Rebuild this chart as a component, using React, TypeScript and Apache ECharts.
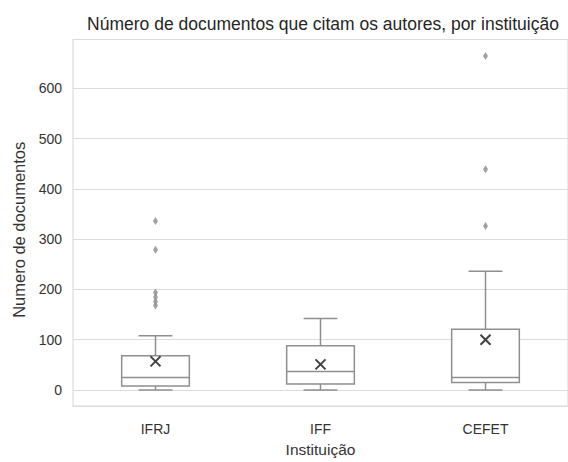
import React, { useEffect, useRef } from "react";
import * as echarts from "echarts";

const categories = ["IFRJ", "IFF", "CEFET"];
const whiskerLow = [0, 0, 0];
const q1 = [8, 12, 15];
const median = [25, 37, 25];
const q3 = [68, 88, 121];
const whiskerHigh = [108, 142, 236];
const means = [57, 51, 100];
const outliersIFRJ = [336, 279, 194, 185, 176, 168];
const outliersCEFET = [664, 439, 326];
const yTicks = [0, 100, 200, 300, 400, 500, 600];

export default function App() {
  const ref = useRef<HTMLDivElement>(null);
  useEffect(() => {
    if (!ref.current) return;
    const chart = echarts.init(ref.current, undefined, { renderer: "svg" });
    const font = "Liberation Sans, Arial, sans-serif";
    const boxData = categories.map((_, i) => [i, whiskerLow[i], q1[i], median[i], q3[i], whiskerHigh[i]]);
    const outlierData: number[][] = [
      ...outliersIFRJ.map((v) => [0, v]),
      ...outliersCEFET.map((v) => [2, v]),
    ];
    const boxColor = "#8f8f8f";
    chart.setOption({
      animation: false,
      backgroundColor: "#ffffff",
      title: {
        text: "Número de documentos que citam os autores, por instituição",
        left: 318,
        textAlign: "center",
        top: 10,
        textStyle: { fontFamily: font, fontSize: 17.5, fontWeight: "normal", color: "#262626" },
      },
      grid: {
        left: 73,
        right: -1,
        top: 39.5,
        bottom: 48.5,
        show: true,
        borderColor: "#dcdcdc",
        borderWidth: 1.2,
      },
      xAxis: {
        type: "category",
        data: categories,
        boundaryGap: true,
        axisLine: { show: false },
        axisTick: { show: false },
        axisLabel: { fontFamily: font, fontSize: 14, color: "#333333", margin: 16 },
        name: "Instituição",
        nameLocation: "middle",
        nameGap: 33,
        nameTextStyle: { fontFamily: font, fontSize: 15.5, color: "#333333" },
        splitLine: { show: false },
      },
      yAxis: {
        type: "value",
        min: -32,
        max: 697,
        splitNumber: 7,
        axisLine: { show: false },
        axisTick: { show: false },
        axisLabel: {
          fontFamily: font,
          fontSize: 14,
          color: "#333333",
          margin: 11,
          formatter: (v: number) => (yTicks.indexOf(v) >= 0 ? String(v) : ""),
        },
        splitLine: { lineStyle: { color: "#dcdcdc", width: 1.2 } },
        name: "Numero de documentos",
        nameLocation: "middle",
        nameGap: 43,
        nameTextStyle: { fontFamily: font, fontSize: 16.5, color: "#333333", padding: [0, 14, 0, 0] },
      },
      series: [
        {
          type: "custom",
          data: boxData,
          encode: { x: 0, y: [1, 2, 3, 4, 5] },
          renderItem: (params: any, api: any) => {
            const x = api.value(0);
            const band = api.size([1, 0])[0];
            const bw = band * 0.41;
            const cw = bw / 2;
            const pLow = api.coord([x, api.value(1)]);
            const pQ1 = api.coord([x, api.value(2)]);
            const pMed = api.coord([x, api.value(3)]);
            const pQ3 = api.coord([x, api.value(4)]);
            const pHigh = api.coord([x, api.value(5)]);
            const cx = pQ1[0];
            const st = { stroke: boxColor, lineWidth: 1.5, fill: null };
            return {
              type: "group",
              children: [
                { type: "line", shape: { x1: cx, y1: pQ3[1], x2: cx, y2: pHigh[1] }, style: st },
                { type: "line", shape: { x1: cx, y1: pQ1[1], x2: cx, y2: pLow[1] }, style: st },
                { type: "line", shape: { x1: cx - cw / 2, y1: pHigh[1], x2: cx + cw / 2, y2: pHigh[1] }, style: st },
                { type: "line", shape: { x1: cx - cw / 2, y1: pLow[1], x2: cx + cw / 2, y2: pLow[1] }, style: st },
                {
                  type: "rect",
                  shape: { x: cx - bw / 2, y: pQ3[1], width: bw, height: pQ1[1] - pQ3[1] },
                  style: { stroke: boxColor, lineWidth: 1.5, fill: "#ffffff" },
                },
                { type: "line", shape: { x1: cx - bw / 2, y1: pMed[1], x2: cx + bw / 2, y2: pMed[1] }, style: st },
              ],
            };
          },
          z: 2,
        },
        {
          type: "scatter",
          data: outlierData,
          symbol: "diamond",
          symbolSize: [5, 8],
          itemStyle: { color: "#8a8a8a" },
          z: 3,
        },
        {
          type: "scatter",
          data: means.map((v, i) => [i, v]),
          symbol: "path://M0,0L10,10M10,0L0,10",
          symbolSize: 10,
          itemStyle: { color: "none", borderColor: "#111111", borderWidth: 2 },
          z: 4,
        },
      ],
    });
    return () => chart.dispose();
  }, []);
  return <div ref={ref} style={{ width: 568, height: 462, position: "absolute", left: 0, top: 0 }} />;
}
